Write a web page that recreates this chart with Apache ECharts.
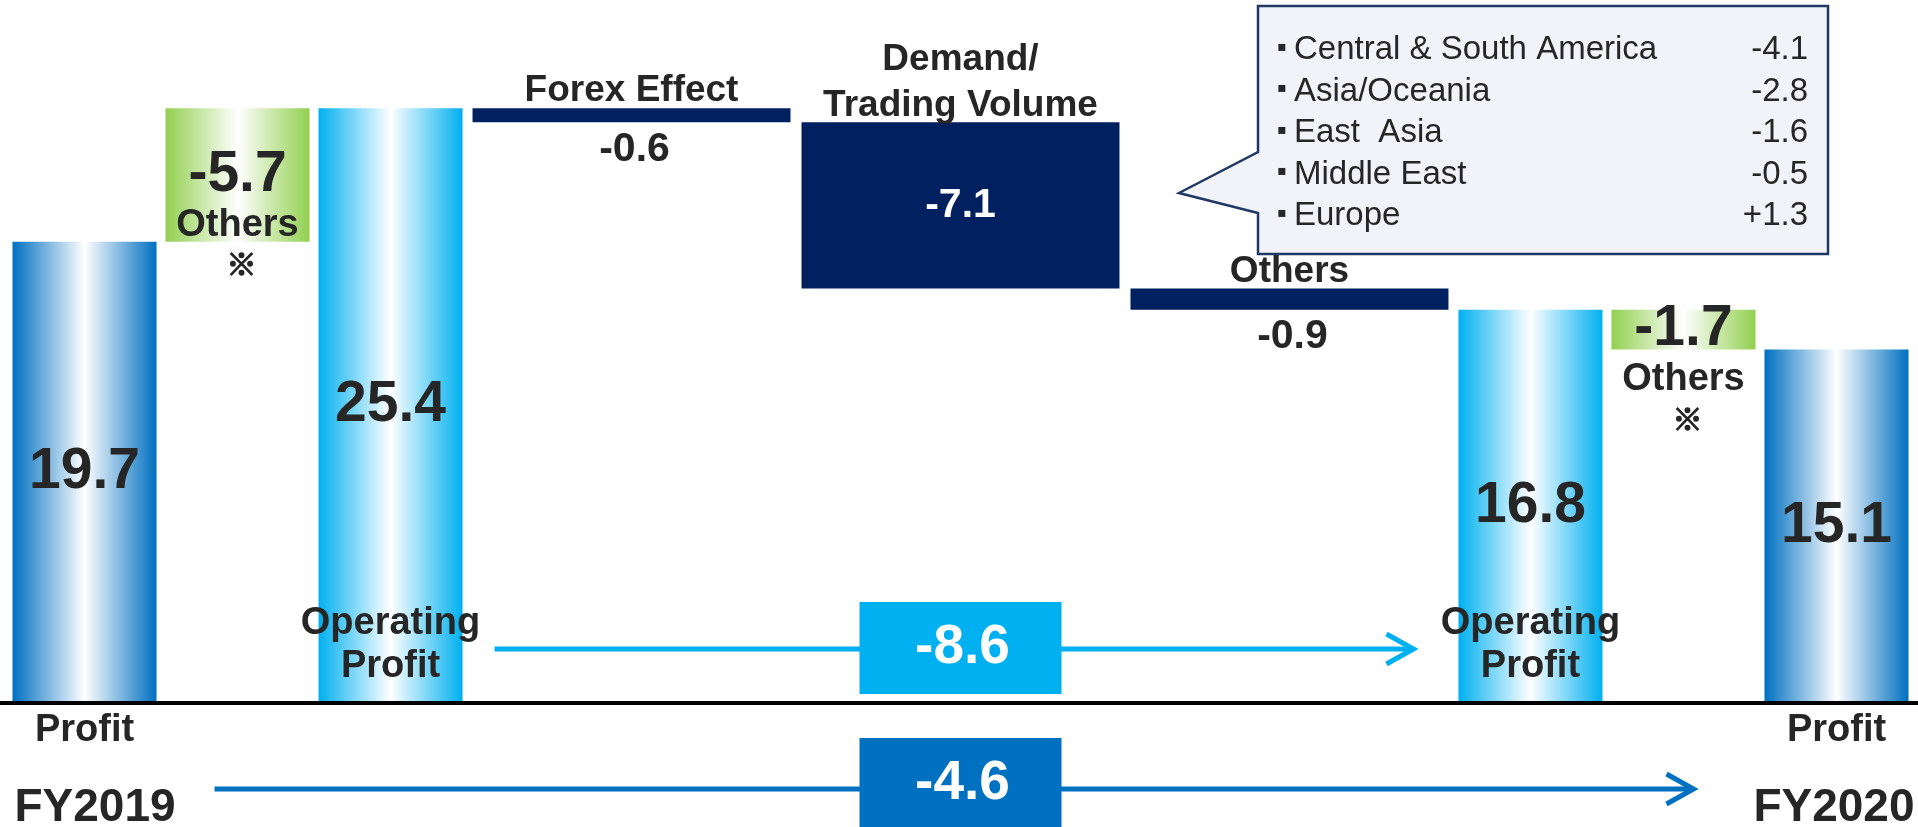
<!DOCTYPE html>
<html>
<head>
<meta charset="utf-8">
<script src="https://cdn.jsdelivr.net/npm/echarts@6/dist/echarts.min.js"></script>
<style>
  html, body { margin: 0; padding: 0; background: #ffffff; }
  #chart { width: 1918px; height: 827px; }
</style>
</head>
<body>
<div id="chart"></div>
<script>
// Profit bridge FY2019 -> FY2020
const categories = ['Profit', 'Others', 'Operating\nProfit', 'Forex Effect', 'Demand/\nTrading Volume', 'Others', 'Operating\nProfit', 'Others', 'Profit'];
const stepKinds  = ['profit', 'adjust', 'operating', 'factor', 'factor', 'factor', 'operating', 'adjust', 'profit'];
const stepValues = [19.7, -5.7, 25.4, -0.6, -7.1, -0.9, 16.8, -1.7, 15.1];
const fiscalYears = ['FY2019', 'FY2020'];
const regionNames  = ['Central & South America', 'Asia/Oceania', 'East  Asia', 'Middle East', 'Europe'];
const regionValues = [-4.1, -2.8, -1.6, -0.5, 1.3];

// ---- styling / layout ----
const FONT = '"Liberation Sans", Arial, Helvetica, sans-serif';
const MARK_FONT = '"Noto Sans CJK JP", sans-serif';
const INK = '#262626';
const NAVY = '#002060';
const WIDE = 2.15;                       // factor steps occupy a wider slot
const slotWidths = stepKinds.map(k => (k === 'factor' ? WIDE : 1));
const slotStarts = [];
let acc = 0;
slotWidths.forEach(w => { slotStarts.push(acc); acc += w; });
const totalUnits = acc;
const Y_MAX = 29;

// vertical extent of every step: totals rise from zero, factors float on the running level,
// "Others" adjustments hang from the neighbouring operating profit
let level = 0;
const spans = stepValues.map((v, i) => {
  const kind = stepKinds[i];
  if (kind === 'profit' || kind === 'operating') { level = v; return [0, v]; }
  if (kind === 'factor') { const s = [level + v, level]; level += v; return s; }
  const anchor = stepKinds[i - 1] === 'operating' ? stepValues[i - 1] : stepValues[i + 1];
  return [anchor + v, anchor];
});

const fmt = v => (v > 0 ? '+' : '') + v.toFixed(1);
const grad = c => new echarts.graphic.LinearGradient(0, 0, 1, 0, [
  { offset: 0, color: c },
  { offset: 0.5, color: '#ffffff' },
  { offset: 1, color: c }
]);
const txt = (text, x, y, size, extra) => ({
  type: 'text',
  style: Object.assign({
    text, x, y, fill: INK,
    font: 'bold ' + size + 'px ' + FONT,
    align: 'center', verticalAlign: 'middle'
  }, extra || {})
});

function renderItem(params, api) {
  const i = api.value(0);
  const lo = api.value(1), hi = api.value(2);
  const kind = stepKinds[i];
  const inset = kind === 'factor' ? 5.5 : 4.5;
  const x0 = api.coord([slotStarts[i], 0])[0] + inset;
  const x1 = api.coord([slotStarts[i] + slotWidths[i], 0])[0] - inset;
  const yTop = api.coord([0, hi])[1];
  const yBot = api.coord([0, lo])[1];
  const cx = (x0 + x1) / 2, cy = (yTop + yBot) / 2;
  const fill = kind === 'profit' ? grad('#0070C0')
             : kind === 'operating' ? grad('#00B0F0')
             : kind === 'adjust' ? grad('#92D050') : NAVY;
  const children = [{
    type: 'rect',
    shape: { x: x0, y: yTop, width: x1 - x0, height: yBot - yTop },
    style: { fill }
  }];
  const v = stepValues[i];
  if (kind === 'profit' || kind === 'operating') {
    children.push(txt(v.toFixed(1), cx, cy, 57));
    if (kind === 'operating') {
      children.push(txt(categories[i], cx, yBot - 58, 38, { lineHeight: 43 }));
    } else {
      children.push(txt(categories[i], cx, yBot + 28, 38));
      const first = i === 0;
      children.push(txt(first ? fiscalYears[0] : fiscalYears[1],
        first ? x0 + 2 : x1 + 6, yBot + 105, 46, { align: first ? 'left' : 'right' }));
    }
  } else if (kind === 'adjust') {
    children.push(txt(fmt(v), cx, cy, 57));
    children.push(txt(categories[i], cx, cy + 50, 38));
    children.push(txt('※', cx + 4, cy + 89, 30, {
      font: 'bold 30px ' + MARK_FONT, stroke: INK, lineWidth: 1.4
    }));
  } else {
    children.push(txt(categories[i], cx, yTop + 6, 37, { verticalAlign: 'bottom', lineHeight: 46 }));
    if (yBot - yTop > 80) {
      children.push(txt(fmt(v), cx, cy, 41, { fill: '#ffffff' }));
    } else {
      children.push(txt(fmt(v), cx + 3, yBot + 27, 41));
    }
  }
  return { type: 'group', children };
}

const chart = echarts.init(document.getElementById('chart'), null, { renderer: 'canvas' });
chart.setOption({
  animation: false,
  backgroundColor: '#ffffff',
  grid: { left: 8, right: 5, top: 24, bottom: 124 },
  xAxis: { type: 'value', min: 0, max: totalUnits, show: false },
  yAxis: { type: 'value', min: 0, max: Y_MAX, show: false },
  series: [{
    type: 'custom',
    renderItem,
    encode: { x: 0, y: [1, 2] },
    data: stepValues.map((v, i) => [i, spans[i][0], spans[i][1]]),
    z: 2
  }]
});

// ---- annotations: baseline, change arrows, regional breakdown callout ----
const px = (u, y) => chart.convertToPixel({ gridIndex: 0 }, [u, y]);
const slotLeft = i => px(slotStarts[i], 0)[0] + 4.5;
const slotRight = i => px(slotStarts[i] + slotWidths[i], 0)[0] - 4.5;
const slotCenter = i => px(slotStarts[i] + slotWidths[i] / 2, 0)[0];
const yBase = px(0, 0)[1];

const opIdx = stepKinds.map((k, i) => (k === 'operating' ? i : -1)).filter(i => i >= 0);
const prIdx = stepKinds.map((k, i) => (k === 'profit' ? i : -1)).filter(i => i >= 0);
const demandIdx = 4;

function changeArrow(x0, x1, y, color, value, boxTop, boxH) {
  const bx = slotCenter(demandIdx);
  return [
    { type: 'line', z: 20, shape: { x1: x0, y1: y, x2: x1, y2: y }, style: { stroke: color, lineWidth: 5 } },
    { type: 'polyline', z: 20, shape: { points: [[x1 - 27, y - 15], [x1, y], [x1 - 27, y + 15]] },
      style: { stroke: color, lineWidth: 5, fill: null, lineJoin: 'miter' } },
    { type: 'rect', z: 21, shape: { x: bx - 101, y: boxTop, width: 202, height: boxH }, style: { fill: color } },
    { type: 'text', z: 22, style: { text: fmt(value), x: bx + 2, y: boxTop + 46, fill: '#ffffff',
      font: 'bold 55px ' + FONT, align: 'center', verticalAlign: 'middle' } }
  ];
}

const opChange = stepValues[opIdx[1]] - stepValues[opIdx[0]];
const prChange = stepValues[prIdx[1]] - stepValues[prIdx[0]];
const yOp = yBase - 54;
const yPr = yBase + 86;

const graphics = [
  { type: 'line', z: 30, shape: { x1: 0, y1: yBase, x2: 1918, y2: yBase }, style: { stroke: '#000000', lineWidth: 4 } }
].concat(
  changeArrow(slotRight(opIdx[0]) + 32, slotLeft(opIdx[1]) - 45, yOp, '#00B0F0', opChange, yOp - 47, 92),
  changeArrow(slotRight(prIdx[0]) + 58, slotLeft(prIdx[1]) - 71, yPr, '#0070C0', prChange, yPr - 51, 100)
);

// callout pointing at the demand step
const cb = { x0: 1258, x1: 1828, y0: 6, y1: 254, tipX: 1179, tipY: 193, baseTop: 152, baseBot: 213 };
graphics.push({
  type: 'polygon', z: 10,
  shape: { points: [[cb.x0, cb.y0], [cb.x1, cb.y0], [cb.x1, cb.y1], [cb.x0, cb.y1], [cb.x0, cb.baseBot],
                    [cb.tipX, cb.tipY], [cb.x0, cb.baseTop]] },
  style: { fill: '#F2F3F8', stroke: '#1F3864', lineWidth: 2.5, lineJoin: 'miter' }
});
regionNames.forEach((name, k) => {
  const y = 50 + k * 41.6;
  graphics.push(
    { type: 'text', z: 11, style: { text: '▪', x: 1282, y: y - 3, fill: INK, font: '14px "DejaVu Sans"', align: 'center', verticalAlign: 'middle' } },
    { type: 'text', z: 11, style: { text: name, x: 1294, y, fill: INK, font: '33px ' + FONT, align: 'left', verticalAlign: 'middle' } },
    { type: 'text', z: 11, style: { text: fmt(regionValues[k]), x: 1808, y, fill: INK, font: '33px ' + FONT, align: 'right', verticalAlign: 'middle' } }
  );
});

chart.setOption({ graphic: graphics });
</script>
</body>
</html>
